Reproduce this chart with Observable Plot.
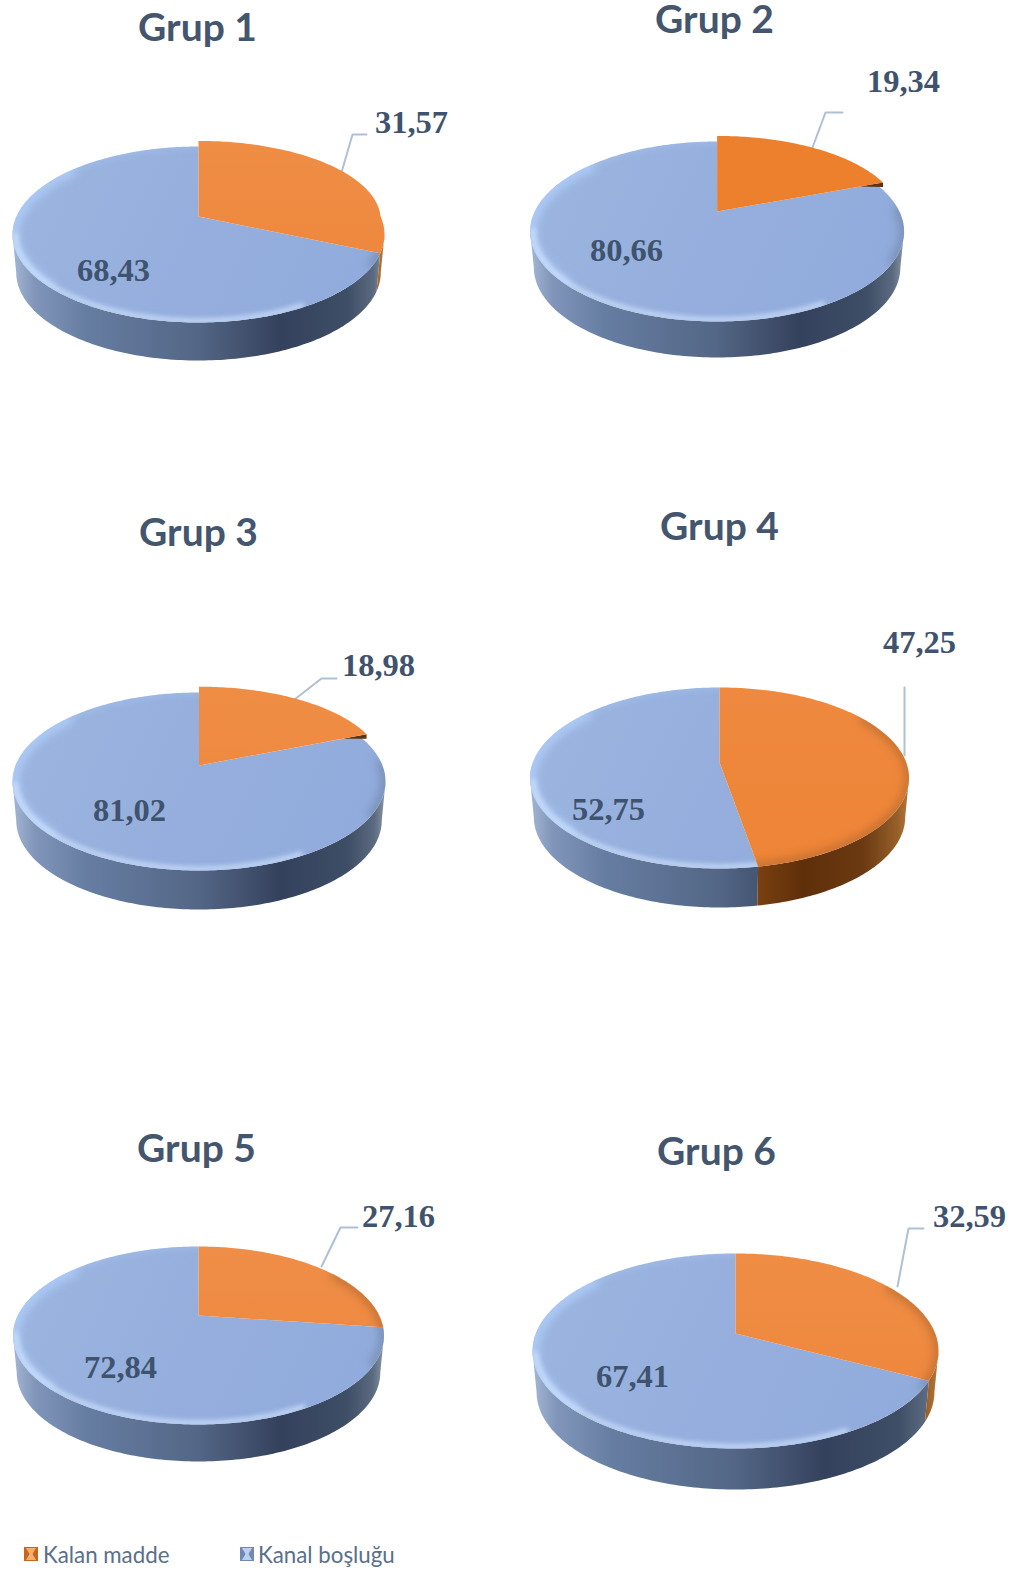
<!DOCTYPE html>
<html lang="tr">
<head>
<meta charset="utf-8">
<title>Kalan madde ve kanal boşluğu oranları</title>
<script src="https://cdn.jsdelivr.net/npm/d3@7"></script>
<script src="https://cdn.jsdelivr.net/npm/@observablehq/plot@0.6"></script>
<style>
  html, body { margin: 0; padding: 0; background: #fff; }
  #chart svg { display: block; }
  #legend { position: relative; height: 38px; width: 1019px; font: 400 22.3px Lato, sans-serif; color: #5a6f8a; }
  #legend span.item { position: absolute; top: 4px; display: flex; align-items: center; gap: 5px; height: 30px; }
  #legend svg { display: block; }
</style>
</head>
<body>
<div id="chart"></div>
<div id="legend"></div>
<script>
// Shares per group, in percent
const groups = ["Grup 1", "Grup 2", "Grup 3", "Grup 4", "Grup 5", "Grup 6"];
const kalanMadde = [31.57, 19.34, 18.98, 47.25, 27.16, 32.59];
const kanalBoslugu = [68.43, 80.66, 81.02, 52.75, 72.84, 67.41];
const seriesNames = ["Kalan madde", "Kanal boşluğu"];

// Where each disc sits on the page and how it is tilted
const discs = [
  {cx: 198,   rx: 186,   apex: 216,  top: 146,  bottom: 322,  foot: 360,  spread: 0.08},
  {cx: 716.6, rx: 187,   apex: 211,  top: 141,  bottom: 321,  foot: 357,  spread: 0.08},
  {cx: 198.5, rx: 186.5, apex: 765,  top: 692,  bottom: 870,  foot: 909,  spread: 0.08},
  {cx: 719,   rx: 189.5, apex: 762,  top: 687,  bottom: 868,  foot: 907,  spread: 0},
  {cx: 198,   rx: 185.5, apex: 1315, top: 1246, bottom: 1424, foot: 1461, spread: 0},
  {cx: 735,   rx: 203,   apex: 1333, top: 1253, bottom: 1448, foot: 1489, spread: 0}
];
const titleAnchors = [[197, 28], [714, 20], [198, 533], [719, 527], [196, 1149], [716, 1152]];
const kalanAnchors = [[411, 122], [903, 81], [378, 665], [919, 642], [398, 1216], [969, 1216]];
const kanalAnchors = [[113, 270], [626, 250], [129, 810], [608, 809], [120, 1367], [632, 1376]];
const leaders = [
  [[341, 172], [352, 134], [366, 134]],
  [[812, 147], [825, 112], [842, 112]],
  [[294, 699], [321, 678], [336, 678]],
  [[904, 687], [904, 755]],
  [[321, 1266], [340, 1227], [357, 1227]],
  [[897, 1286], [908, 1228], [923, 1228]]
];
const orangeFaces = [["#ef8d45", "#ee853a"], ["#ec802c", "#ec7f2a"], ["#ef8d45", "#ee853a"],
                     ["#ee893f", "#ee8436"], ["#ef8e48", "#ee853a"], ["#ef8d45", "#ee853a"]];

const W = 1019, H = 1535;
const TAU = Math.PI * 2;

// A point of the tilted disc seen in perspective; turn is a fraction of the circle, clockwise from 12 o'clock
function projector(d) {
  const t = d.apex - d.top, b = d.bottom - d.apex;
  const p = (b - t) / (b + t);
  const B = t * (1 + p), A = d.rx * Math.sqrt(1 - p * p);
  const at = (turn, scale = 1) => {
    const a = turn * TAU, u = Math.sin(a), v = Math.cos(a), w = 1 + p * v;
    return {x: d.cx + scale * A * u / w, y: d.apex - scale * B * v / w};
  };
  const flare = (turn) => {
    const v = Math.max(Math.cos(turn * TAU), 0);
    return 1 + d.spread * v * (2 - v);
  };
  const footAt = (turn) => {
    const q = at(turn);
    return {x: d.cx + (q.x - d.cx) * 0.98, y: q.y + d.foot - d.bottom};
  };
  return {at, flare, footAt, frontStart: Math.acos(-p) / TAU};
}

const sweep = (from, to, fn) => {
  const n = Math.max(2, Math.ceil(Math.abs(to - from) * 360));
  return d3.range(n + 1).map((i) => fn(from + (to - from) * i / n));
};

const defs = [];
const marks = [];
const lineOf = (pts, o) => Plot.line(pts, {x: "x", y: "y", curve: "linear", ...o});

groups.forEach((name, i) => {
  const d = discs[i], P = projector(d);
  const end = kalanMadde[i] / 100;
  const blueSpan = kanalBoslugu[i] / 100;
  const apex = {x: d.cx, y: d.apex};
  const fs = P.frontStart, fe = 1 - fs;

  defs.push({i, d, orange: orangeFaces[i]});

  // Leader line behind the disc
  marks.push(lineOf(leaders[i].map(([x, y]) => ({x, y})), {stroke: "#afc0d4", strokeWidth: 2}));

  // Side wall of the disc
  const wall = (a, b) => [...sweep(a, b, (t) => P.at(t)), ...sweep(b, a, (t) => P.footAt(t))];
  marks.push(lineOf(wall(Math.max(fs, end), fe), {fill: `url(#wall-blue-${i})`, stroke: "none"}));
  if (end > fs) marks.push(lineOf(wall(fs, end), {fill: `url(#wall-orange-${i})`, stroke: "none"}));

  // Kanal boşluğu wedge and its soft rim shading
  const blueWedge = [apex, ...sweep(end, end + blueSpan, (t) => P.at(t))];
  marks.push(lineOf(blueWedge, {fill: `url(#face-blue-${i})`, stroke: "none", className: `blue-${i}`}));
  const blueEdge = {className: `edge-blue-${i}`, fill: "none", strokeLinecap: "butt"};
  marks.push(lineOf(sweep(0.62, 0.86, (t) => P.at(t)), {...blueEdge, stroke: "#b2d0fb", strokeWidth: 12, strokeOpacity: 0.85, imageFilter: "blur(5px)"}));
  marks.push(lineOf(sweep(0.86, 1.02, (t) => P.at(t)), {...blueEdge, stroke: "#b2d0fb", strokeWidth: 5, strokeOpacity: 0.35, imageFilter: "blur(3px)"}));
  marks.push(lineOf(sweep(0.24, 0.34, (t) => P.at(t)), {...blueEdge, stroke: "#66799a", strokeWidth: 9, strokeOpacity: 0.6, imageFilter: "blur(5px)"}));
  marks.push(lineOf(sweep(0.42, 0.72, (t) => P.at(t, 0.985)), {...blueEdge, stroke: "#cfe2fd", strokeWidth: 5, strokeOpacity: 0.85, imageFilter: "blur(2.5px)"}));

  // Small dark wall where the raised wedge overhangs the disc
  const tip = P.at(end, P.flare(end));
  if (d.spread > 0 && Math.cos(end * TAU) > 0) {
    const inner = P.at(end, 0.9);
    marks.push(lineOf([tip, {x: tip.x, y: tip.y + 4.5}, inner], {fill: "#5c3413", stroke: "none"}));
  }

  // Kalan madde wedge
  const orangeWedge = [apex, ...sweep(0, end, (t) => P.at(t, P.flare(t)))];
  marks.push(lineOf(orangeWedge, {fill: `url(#face-orange-${i})`, stroke: "none", className: `orange-${i}`}));
  if (d.spread === 0) {
    marks.push(lineOf(sweep(0.16, 0.5, (t) => P.at(t)), {className: `edge-orange-${i}`, fill: "none", stroke: "#a9642e", strokeWidth: 8, strokeOpacity: 0.65, imageFilter: "blur(4px)"}));
  }

  // Texts
  const label = {fontFamily: "'Liberation Serif', serif", fontWeight: 700, fontSize: 32.5, fill: "#3f536f", textAnchor: "middle", lineAnchor: "middle"};
  const pct = (v) => v.toFixed(2).replace(".", ",");
  marks.push(Plot.text([kalanMadde[i]], {x: kalanAnchors[i][0], y: kalanAnchors[i][1], text: pct, ...label}));
  marks.push(Plot.text([kanalBoslugu[i]], {x: kanalAnchors[i][0], y: kanalAnchors[i][1], text: pct, ...label}));
  marks.push(Plot.text([name], {x: titleAnchors[i][0], y: titleAnchors[i][1], text: (s) => s,
    fontFamily: "Lato, sans-serif", fontWeight: 700, fontSize: 39, fill: "#44566e", textAnchor: "middle", lineAnchor: "middle"}));
});

const chart = Plot.plot({
  width: W, height: H, margin: 0,
  x: {domain: [0, W], range: [0, W], axis: null},
  y: {domain: [0, H], range: [0, H], axis: null},
  marks
});

// Gradients and clip shapes used by the marks above
const svg = d3.select(chart);
const svgDefs = svg.insert("defs", ":first-child");
function gradient(id, x1, x2, y1, y2, stops) {
  const g = svgDefs.append("linearGradient").attr("id", id).attr("gradientUnits", "userSpaceOnUse")
    .attr("x1", x1).attr("x2", x2).attr("y1", y1).attr("y2", y2);
  stops.forEach(([o, c]) => g.append("stop").attr("offset", o).attr("stop-color", c));
}
defs.forEach(({i, d, orange}) => {
  const l = d.cx - d.rx, r = d.cx + d.rx;
  gradient(`wall-blue-${i}`, l, r, 0, 0, [[0, "#a4b6d4"], [0.06, "#8095b9"], [0.2, "#667da2"], [0.5, "#536685"], [0.72, "#34415d"], [0.9, "#3e4e66"], [0.97, "#5b6a80"], [1, "#8996a6"]]);
  gradient(`wall-orange-${i}`, l, r, 0, 0, [[0, "#8a4a14"], [0.6, "#7a4010"], [0.72, "#5f2f0a"], [0.88, "#6b3a12"], [0.97, "#97602a"], [1, "#b9783a"]]);
  gradient(`face-blue-${i}`, l, r, d.top, d.bottom, [[0, "#9cb6e0"], [0.5, "#95aedd"], [1, "#90abdc"]]);
  gradient(`face-orange-${i}`, 0, 0, d.top, d.bottom, [[0, orange[0]], [1, orange[1]]]);
  ["blue", "orange"].forEach((kind) => {
    const path = chart.querySelector(`.${kind}-${i} path`);
    svgDefs.append("clipPath").attr("id", `clip-${kind}-${i}`).append("path").attr("d", path.getAttribute("d"));
    chart.querySelectorAll(`.edge-${kind}-${i}`).forEach((g) => g.setAttribute("clip-path", `url(#clip-${kind}-${i})`));
  });
});
document.getElementById("chart").append(chart);

// Legend below the chart
const swatches = [
  {left: 24, dark: "#c8641c", light: "#f2b06e", gap: 5},
  {left: 240, dark: "#7089b4", light: "#bcd0ee", gap: 4}
];
const legend = d3.select("#legend");
seriesNames.forEach((s, i) => {
  const sw = swatches[i];
  const item = legend.append("span").attr("class", "item").style("left", sw.left + "px").style("gap", sw.gap + "px");
  const m = item.append("svg").attr("width", 14).attr("height", 14);
  m.append("rect").attr("width", 14).attr("height", 14).attr("fill", sw.dark);
  m.append("path").attr("d", "M2 1H12L8.5 7L12 13H2L5.5 7Z").attr("fill", sw.light);
  item.append("span").text(s);
});
</script>
</body>
</html>
